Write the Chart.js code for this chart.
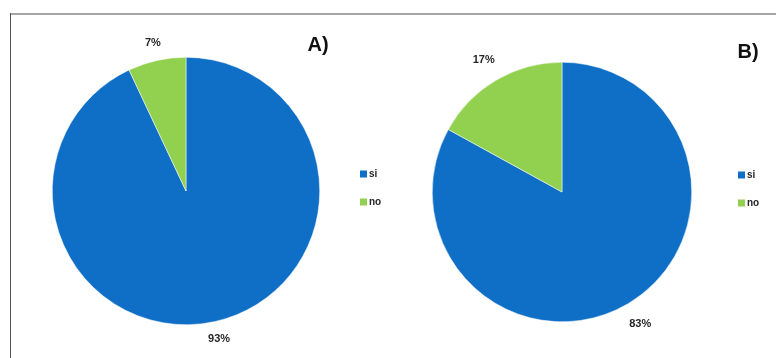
<!DOCTYPE html>
<html>
<head>
<meta charset="utf-8">
<script src="https://cdn.jsdelivr.net/npm/chart.js@4/dist/chart.umd.min.js"></script>
<style>
  html, body { margin: 0; padding: 0; background: #fff; }
  #wrap { position: relative; width: 776px; height: 358px; overflow: hidden; background: #fff; }
  #frameTop { position: absolute; left: 10px; top: 13px; width: 766px; height: 2px; background: #a6a6a6; }
  #frameLeft { position: absolute; left: 10px; top: 13px; width: 1px; height: 345px; background: #555; }
  .cv { position: absolute; top: 0; width: 388px; height: 358px; }
</style>
</head>
<body>
<div id="wrap">
  <div class="cv" style="left:0"><canvas id="cA" width="388" height="358"></canvas></div>
  <div class="cv" style="left:388px"><canvas id="cB" width="388" height="358"></canvas></div>
  <div id="frameTop"></div>
  <div id="frameLeft"></div>
</div>
<script>
// ---- data ----
const categories = ['si', 'no'];
const valuesA = [93, 7];
const valuesB = [83, 17];
const panelTitles = ['A)', 'B)'];
const colors = ['#0f6fc6', '#92d050'];

const FONT = '"Liberation Sans Narrow", "Liberation Sans", Arial, sans-serif';

function decorPlugin(title, titlePos, legendPos, labelOffset) {
  return {
    id: 'decor',
    afterDraw(chart) {
      const ctx = chart.ctx;
      const meta = chart.getDatasetMeta(0);
      const ds = chart.data.datasets[0];
      ctx.save();
      // percentage labels
      ctx.fillStyle = '#262626';
      ctx.font = 'bold 11px ' + FONT;
      ctx.textAlign = 'center';
      ctx.textBaseline = 'middle';
      meta.data.forEach((arc, i) => {
        const mid = (arc.startAngle + arc.endAngle) / 2;
        const r = arc.outerRadius + labelOffset;
        const x = arc.x + Math.cos(mid) * r;
        const y = arc.y + Math.sin(mid) * r;
        ctx.fillText(ds.data[i] + '%', x, y);
      });
      // panel title
      ctx.font = 'bold 20px ' + FONT;
      ctx.fillStyle = '#111';
      ctx.fillText(title, titlePos[0], titlePos[1]);
      // legend
      ctx.font = 'bold 10px ' + FONT;
      ctx.textAlign = 'left';
      chart.data.labels.forEach((lab, i) => {
        const y = legendPos[1] + i * 28;
        ctx.fillStyle = ds.backgroundColor[i];
        ctx.fillRect(legendPos[0], y - 3.5, 7, 7);
        ctx.fillStyle = '#262626';
        ctx.fillText(lab, legendPos[0] + 9, y);
      });
      ctx.restore();
    }
  };
}

function makePie(id, values, title, padding, titlePos, legendPos, labelOffset) {
  return new Chart(document.getElementById(id), {
    type: 'pie',
    data: {
      labels: categories,
      datasets: [{
        data: values,
        backgroundColor: colors,
        borderColor: '#ffffff',
        borderWidth: 0.5
      }]
    },
    options: {
      responsive: false,
      animation: false,
      layout: { padding: padding },
      plugins: {
        legend: { display: false },
        tooltip: { enabled: false }
      }
    },
    plugins: [decorPlugin(title, titlePos, legendPos, labelOffset)]
  });
}

makePie('cA', valuesA, panelTitles[0],
  { left: 52, right: 68, top: 57, bottom: 33 },
  [318, 45], [360, 174], 18);
makePie('cB', valuesB, panelTitles[1],
  { left: 44, right: 84, top: 62, bottom: 36 },
  [748 - 388, 52], [738 - 388, 175], 24);
</script>
</body>
</html>
